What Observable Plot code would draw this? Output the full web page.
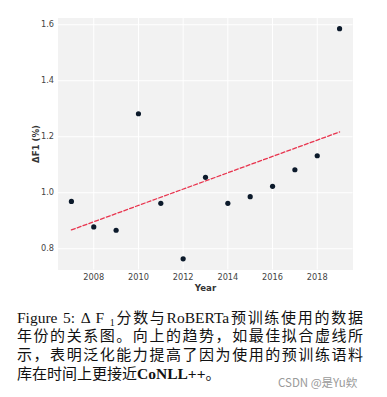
<!DOCTYPE html>
<html>
<head>
<meta charset="utf-8">
<script src="https://cdn.jsdelivr.net/npm/d3@7"></script>
<script src="https://cdn.jsdelivr.net/npm/@observablehq/plot@0.6"></script>
<style>
  html, body { margin: 0; padding: 0; background: #fff; }
  #wrap { position: relative; width: 387px; height: 397px; overflow: hidden; }
  #caption {
    position: absolute; left: 17px; top: 307.5px; width: 346px;
    font-family: "Liberation Serif", "Noto Sans CJK SC", serif;
    font-size: 15.5px; line-height: 18.8px; color: #111;
  }
  #caption div { height: 18.8px; line-height: 18.8px; overflow: visible; }
  #caption span, #caption b { line-height: 18.8px; }
  #caption .j { text-align: justify; text-align-last: justify; white-space: nowrap; }
  #caption .l { text-align: left; white-space: nowrap; }
  #caption .cjk { font-family: "Noto Sans CJK SC", sans-serif; font-size: 15px; }
  #caption sub { font-size: 10px; vertical-align: baseline; position: relative; top: 3px; line-height: 0; }
  #wm {
    position: absolute; left: 278px; top: 374px;
    font-family: "Noto Sans CJK SC", "DejaVu Sans", sans-serif;
    font-size: 11.5px; color: #9a9a9a;
  }
</style>
</head>
<body>
<div id="wrap">
  <div id="chart"></div>
  <div id="caption"></div>
  <div id="wm">CSDN @是Yu欸</div>
</div>
<script>
const years = [2007, 2008, 2009, 2010, 2011, 2012, 2013, 2014, 2015, 2016, 2017, 2018, 2019];
const deltaF1 = [0.969, 0.878, 0.866, 1.282, 0.962, 0.764, 1.055, 0.962, 0.986, 1.023, 1.082, 1.132, 1.586];
const xTicks = [2008, 2010, 2012, 2014, 2016, 2018];
const yTicks = [0.8, 1.0, 1.2, 1.4, 1.6];
const xLabel = "Year";
const yLabel = "ΔF1 (%)";
const captionLines = [
  "Figure 5: Δ F <sub>1</sub><span class='cjk'>分数与</span>RoBERTa<span class='cjk'>预训练使用的数据</span>",
  "<span class='cjk'>年份的关系图。向上的趋势，如最佳拟合虚线所</span>",
  "<span class='cjk'>示，表明泛化能力提高了因为使用的预训练语料</span>",
  "<span class='cjk'>库在时间上更接近</span><b>CoNLL++</b><span class='cjk'>。</span>"
];

const data = years.map((x, i) => ({x, y: deltaF1[i]}));

const chart = Plot.plot({
  width: 387,
  height: 300,
  marginTop: 17.5,
  marginBottom: 30.5,
  marginLeft: 57.5,
  marginRight: 34.5,
  style: {fontFamily: "DejaVu Sans", fontSize: "8.2px", color: "#444", background: "white"},
  x: {domain: [2006.4, 2019.6]},
  y: {domain: [0.724, 1.624]},
  marks: [
    Plot.frame({fill: "#f2f2f2", stroke: null}),
    Plot.gridX(xTicks, {stroke: "white", strokeOpacity: 1, strokeWidth: 1}),
    Plot.gridY(yTicks, {stroke: "white", strokeOpacity: 1, strokeWidth: 1}),
    Plot.axisX(xTicks, {tickSize: 0, tickPadding: 4, tickFormat: d => String(d), label: xLabel, labelAnchor: "center", labelArrow: "none", labelOffset: 21, fill: "#444"}),
    Plot.axisY(yTicks, {tickSize: 0, tickPadding: 4, tickFormat: d3.format(".1f"), label: yLabel, labelAnchor: "center", labelArrow: "none", labelOffset: 25, fill: "#444"}),
    Plot.linearRegressionY(data, {x: "x", y: "y", stroke: "#e8344e", strokeWidth: 1.3, strokeDasharray: "4,2.2", ci: 0}),
    Plot.dot(data, {x: "x", y: "y", r: 2.6, fill: "#0c1a2b", stroke: "none"})
  ]
});
document.getElementById("chart").appendChild(chart);
chart.querySelectorAll('[aria-label="x-axis label"] text, [aria-label="y-axis label"] text').forEach(t => {
  t.setAttribute("font-weight", "bold");
  t.setAttribute("fill", "#333");
  t.style.fontSize = "8.6px";
});

const cap = document.getElementById("caption");
captionLines.forEach((h, i) => {
  const d = document.createElement("div");
  d.className = i < captionLines.length - 1 ? "j" : "l";
  d.innerHTML = h;
  cap.appendChild(d);
});
</script>
</body>
</html>
